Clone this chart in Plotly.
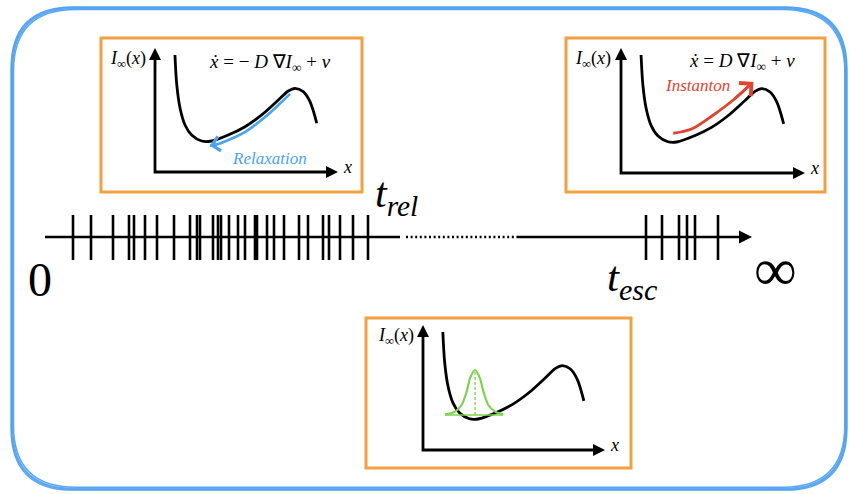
import plotly.graph_objects as go

W, H = 850, 494

# ---------------- data ----------------
# event times on the time line (time-axis units)
early_events = [73, 91, 113, 129, 134, 145, 157, 174, 190, 197, 200, 213, 218, 221,
                229, 238, 245, 255, 257, 267, 274, 284, 299, 308, 323, 329, 340, 353, 368]
late_events = [646, 662, 679, 687, 695, 718]
time_axis_start, time_rel_end, time_dots_end, time_axis_tip = 45, 400, 518, 752

# quasi-potential I_inf(x), local inset units
pot_x = [0.109, 0.119, 0.137, 0.164, 0.200, 0.255, 0.309, 0.400, 0.492, 0.583,
         0.674, 0.728, 0.765, 0.810, 0.847, 0.884]
pot_y = [0.944, 0.702, 0.514, 0.379, 0.298, 0.250, 0.250, 0.298, 0.365, 0.460,
         0.580, 0.653, 0.675, 0.648, 0.567, 0.393]

# relaxation path (downhill)
relax_x = [0.738, 0.680, 0.600, 0.500, 0.420, 0.350, 0.300]
relax_y = [0.630, 0.548, 0.442, 0.330, 0.270, 0.228, 0.212]

# instanton path (uphill)
inst_x = [0.284, 0.330, 0.393, 0.502, 0.610, 0.700]
inst_y = [0.318, 0.330, 0.358, 0.464, 0.584, 0.704]

# quasi-stationary distribution
gauss_x = [0.121, 0.176, 0.212, 0.240, 0.258, 0.286, 0.313, 0.332, 0.359, 0.396, 0.441]
gauss_y = [0.285, 0.307, 0.360, 0.467, 0.573, 0.640, 0.573, 0.467, 0.360, 0.307, 0.285]
gauss_base = 0.28
gauss_center = 0.286
gauss_peak = 0.64

# ---------------- styles / layout frames ----------------
FONT = "Liberation Serif"
BLACK = "#000000"
ORANGE = "#f4a040"
BLUE_FRAME = "#4a9ff2"
BLUE = "#4aa3f2"
RED = "#e2432e"
GREEN = "#7fd24f"

# inset frames in pixels: box, origin of the little axes, tips of the axes
insets = [
    dict(name="relax", box=(101, 38, 362, 192), origin=(155, 172), tip=(338, 48)),
    dict(name="inst", box=(566, 38, 825, 192), origin=(621, 173), tip=(805, 48)),
    dict(name="qsd", box=(366, 318, 631, 468), origin=(423, 450), tip=(605, 325)),
]

fig = go.Figure()

# ---- main (pixel-like) axes for the time line ----
tick_top, tick_bot, line_y = 215, 260, 237
xs, ys = [], []
for t in early_events + late_events:
    xs += [t, t, None]
    ys += [tick_top, tick_bot, None]
fig.add_trace(go.Scatter(x=xs, y=ys, mode="lines", line=dict(color=BLACK, width=2.6),
                         hoverinfo="skip", xaxis="x", yaxis="y"))
fig.add_trace(go.Scatter(x=[time_axis_start, time_rel_end], y=[line_y, line_y], mode="lines",
                         line=dict(color=BLACK, width=2.6), hoverinfo="skip"))
fig.add_trace(go.Scatter(x=[time_rel_end + 6, time_dots_end], y=[line_y, line_y], mode="lines",
                         line=dict(color=BLACK, width=2.4, dash="2px,2.6px"), hoverinfo="skip"))
fig.add_trace(go.Scatter(x=[time_dots_end, time_axis_tip - 8], y=[line_y, line_y], mode="lines",
                         line=dict(color=BLACK, width=2.6), hoverinfo="skip"))
fig.add_trace(go.Scatter(x=[time_axis_tip], y=[line_y], mode="markers",
                         marker=dict(symbol="arrow-right", size=13, color=BLACK,
                                     line=dict(width=0)),
                         cliponaxis=False, hoverinfo="skip"))

layout_axes = {}
annotations = []
shapes = []

for k, ins in enumerate(insets):
    idx = k + 2
    bx0, by0, bx1, by1 = ins["box"]
    ox, oy = ins["origin"]
    tx, ty = ins["tip"]
    sx = tx - ox
    sy = oy - ty
    xa, ya = f"x{idx}", f"y{idx}"
    layout_axes[f"xaxis{idx}"] = dict(domain=[bx0 / W, bx1 / W],
                                      range=[(bx0 - ox) / sx, (bx1 - ox) / sx],
                                      visible=False, fixedrange=True, anchor=ya)
    layout_axes[f"yaxis{idx}"] = dict(domain=[(H - by1) / H, (H - by0) / H],
                                      range=[(oy - by1) / sy, (oy - by0) / sy],
                                      visible=False, fixedrange=True, anchor=xa)
    # orange frame
    shapes.append(dict(type="rect", xref=f"{xa} domain", yref=f"{ya} domain",
                       x0=0, x1=1, y0=0, y1=1, line=dict(color=ORANGE, width=3),
                       layer="below"))
    # little axes
    fig.add_trace(go.Scatter(x=[0, 0, 0.96], y=[0.95, 0, 0], mode="lines",
                             line=dict(color=BLACK, width=2.8), xaxis=xa, yaxis=ya,
                             hoverinfo="skip", cliponaxis=False))
    fig.add_trace(go.Scatter(x=[0, 1], y=[1, 0], mode="markers",
                             marker=dict(symbol=["arrow-up", "arrow-right"], size=12,
                                         color=BLACK, line=dict(width=0)),
                             xaxis=xa, yaxis=ya, hoverinfo="skip", cliponaxis=False))
    # potential curve
    fig.add_trace(go.Scatter(x=pot_x, y=pot_y, mode="lines",
                             line=dict(color=BLACK, width=2.8, shape="spline", smoothing=0.9),
                             xaxis=xa, yaxis=ya, hoverinfo="skip"))
    # axis labels
    annotations.append(dict(xref=xa, yref=ya, x=-0.15, y=0.905, showarrow=False,
                            text="<i>I</i><sub>∞</sub>(<i>x</i>)",
                            font=dict(family=FONT, size=18, color=BLACK)))
    annotations.append(dict(xref=xa, yref=ya, x=1.05, y=0.04, showarrow=False,
                            text="<i>x</i>", font=dict(family=FONT, size=18, color=BLACK)))

    if ins["name"] == "relax":
        fig.add_trace(go.Scatter(x=relax_x, y=relax_y, mode="lines",
                                 line=dict(color=BLUE, width=2.6, shape="spline"),
                                 xaxis=xa, yaxis=ya, hoverinfo="skip"))
        annotations.append(dict(xref=xa, yref=ya, axref=xa, ayref=ya,
                                x=relax_x[-1], y=relax_y[-1], ax=relax_x[-2], ay=relax_y[-2],
                                text="", showarrow=True, arrowhead=4, arrowsize=1.2,
                                arrowwidth=2.4, arrowcolor=BLUE))
        annotations.append(dict(xref=xa, yref=ya, x=0.625, y=0.11, showarrow=False,
                                text="<i>Relaxation</i>",
                                font=dict(family=FONT, size=17, color=BLUE)))
        annotations.append(dict(xref=xa, yref=ya, x=0.63, y=0.88, showarrow=False,
                                text="<i>ẋ</i> = − <i>D</i> ∇<i>I</i><sub>∞</sub> + <i>v</i>",
                                font=dict(family=FONT, size=19, color=BLACK)))
    elif ins["name"] == "inst":
        fig.add_trace(go.Scatter(x=inst_x, y=inst_y, mode="lines",
                                 line=dict(color=RED, width=2.8, shape="spline"),
                                 xaxis=xa, yaxis=ya, hoverinfo="skip"))
        annotations.append(dict(xref=xa, yref=ya, axref=xa, ayref=ya,
                                x=inst_x[-1] + 0.02, y=inst_y[-1] + 0.025,
                                ax=inst_x[-2], ay=inst_y[-2],
                                text="", showarrow=True, arrowhead=4, arrowsize=1.3,
                                arrowwidth=2.6, arrowcolor=RED))
        annotations.append(dict(xref=xa, yref=ya, x=0.415, y=0.70, showarrow=False,
                                text="<i>Instanton</i>",
                                font=dict(family=FONT, size=17, color=RED)))
        annotations.append(dict(xref=xa, yref=ya, x=0.655, y=0.885, showarrow=False,
                                text="<i>ẋ</i> = <i>D</i> ∇<i>I</i><sub>∞</sub> + <i>v</i>",
                                font=dict(family=FONT, size=19, color=BLACK)))
    else:
        fig.add_trace(go.Scatter(x=[gauss_x[0], gauss_x[-1]], y=[gauss_base, gauss_base],
                                 mode="lines", line=dict(color=GREEN, width=1.3),
                                 xaxis=xa, yaxis=ya, hoverinfo="skip"))
        fig.add_trace(go.Scatter(x=[gauss_center, gauss_center], y=[gauss_base, gauss_peak],
                                 mode="lines", line=dict(color=GREEN, width=1.3, dash="3px,2px"),
                                 xaxis=xa, yaxis=ya, hoverinfo="skip"))
        fig.add_trace(go.Scatter(x=gauss_x, y=gauss_y, mode="lines",
                                 line=dict(color=GREEN, width=2.2, shape="spline", smoothing=0.8),
                                 xaxis=xa, yaxis=ya, hoverinfo="skip"))

# ---- big labels on the time line ----
annotations += [
    dict(xref="x", yref="y", x=40, y=279, text="0", showarrow=False,
         font=dict(family=FONT, size=48, color=BLACK)),
    dict(xref="x", yref="y", x=775, y=270, text="∞", showarrow=False,
         font=dict(family=FONT, size=60, color=BLACK)),
    dict(xref="x", yref="y", x=373, y=196, xanchor="left", text="<i>t</i><sub><i>rel</i></sub>",
         showarrow=False, font=dict(family=FONT, size=42, color=BLACK)),
    dict(xref="x", yref="y", x=605, y=280, xanchor="left", text="<i>t</i><sub><i>esc</i></sub>",
         showarrow=False, font=dict(family=FONT, size=43, color=BLACK)),
]


# ---- hand-drawn looking blue frame ----
def rounded(x0, y0, x1, y1, r):
    return (f"M{x0 + r},{y0} L{x1 - r},{y0} Q{x1},{y0} {x1},{y0 + r} "
            f"L{x1},{y1 - r} Q{x1},{y1} {x1 - r},{y1} L{x0 + r},{y1} "
            f"Q{x0},{y1} {x0},{y1 - r} L{x0},{y0 + r} Q{x0},{y0} {x0 + r},{y0} Z")


for dx0, dy0, dx1, dy1, w in [(0, 0, 0, 0, 2.4), (1.5, 1.6, -1.2, -1.8, 1.5), (-1, -1.2, 1, 1.2, 1.3)]:
    shapes.append(dict(type="path", xref="x", yref="y",
                       path=rounded(12 + dx0, 8 + dy0, 846 + dx1, 489 + dy1, 62),
                       line=dict(color=BLUE_FRAME, width=w), opacity=0.9, layer="below"))

fig.update_layout(
    width=W, height=H,
    margin=dict(l=0, r=0, t=0, b=0, pad=0),
    paper_bgcolor="white", plot_bgcolor="rgba(0,0,0,0)",
    showlegend=False,
    font=dict(family=FONT),
    xaxis=dict(domain=[0, 1], range=[0, W], visible=False, fixedrange=True),
    yaxis=dict(domain=[0, 1], range=[H, 0], visible=False, fixedrange=True),
    annotations=annotations, shapes=shapes,
    **layout_axes,
)

fig.write_html("out.html", post_script="document.body.style.margin='0px';",
               config={"displayModeBar": False})
